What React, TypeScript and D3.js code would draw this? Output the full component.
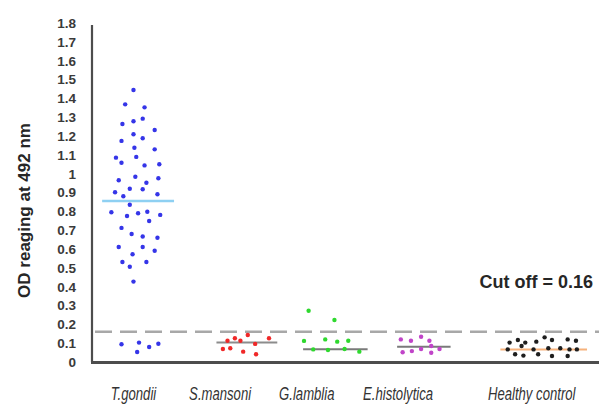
import React from 'react';
import * as d3 from 'd3';

// categories and group layout (x in category units)
const categories = ['T.gondii', 'S.mansoni', 'G.lamblia', 'E.histolytica', 'Healthy control'];
const groupCenters = [0.5, 1.68, 2.64, 3.6, 4.9];
const labelCenters = [0.45, 1.39, 2.33, 3.32, 4.77];
const meanValues = [0.855, 0.104, 0.068, 0.081, 0.067];
const meanHalfWidths = [0.39, 0.33, 0.35, 0.29, 0.47];
const cutOff = 0.16;
const yTickValues = [0, 0.1, 0.2, 0.3, 0.4, 0.5, 0.6, 0.7, 0.8, 0.9, 1, 1.1, 1.2, 1.3, 1.4, 1.5, 1.6, 1.7, 1.8];

// [jitter offset, OD value]
const tGondii = [
  [-0.05, 1.444], [-0.14, 1.368], [0.07, 1.352], [-0.17, 1.264], [-0.05, 1.278], [0.05, 1.292],
  [0.18, 1.232], [-0.05, 1.209], [0.05, 1.188], [-0.18, 1.174], [-0.04, 1.138], [0.18, 1.129],
  [-0.24, 1.085], [-0.18, 1.058], [-0.02, 1.089], [0.07, 1.044], [0.23, 1.05], [-0.21, 0.965],
  [-0.03, 0.984], [0.09, 0.952], [0.22, 0.976], [-0.25, 0.901], [-0.16, 0.88], [-0.09, 0.92],
  [0.05, 0.917], [0.21, 0.891], [-0.09, 0.835], [-0.29, 0.795], [-0.12, 0.775], [0.0, 0.79],
  [0.1, 0.798], [0.24, 0.781], [0.12, 0.749], [-0.18, 0.712], [-0.07, 0.68], [0.05, 0.666],
  [0.21, 0.66], [-0.21, 0.611], [0.05, 0.611], [0.18, 0.591], [-0.06, 0.572], [-0.17, 0.531],
  [0.09, 0.531], [-0.09, 0.506], [-0.05, 0.427],
  [-0.18, 0.094], [0.01, 0.103], [0.12, 0.08], [0.22, 0.097], [-0.01, 0.053],
];
const sMansoni = [
  [-0.21, 0.113], [-0.13, 0.126], [-0.07, 0.113], [0.01, 0.143], [0.24, 0.126],
  [0.09, 0.096], [-0.26, 0.069], [-0.18, 0.073], [-0.04, 0.055], [0.1, 0.041],
];
const gLamblia = [
  [-0.29, 0.272], [-0.01, 0.223], [-0.34, 0.112], [-0.11, 0.12], [0.02, 0.108],
  [0.14, 0.113], [-0.24, 0.067], [-0.08, 0.064], [0.1, 0.069], [0.26, 0.055],
];
const eHistolytica = [
  [-0.25, 0.12], [-0.14, 0.113], [-0.03, 0.134], [0.06, 0.113], [0.08, 0.085],
  [0.17, 0.069], [-0.23, 0.052], [-0.13, 0.058], [-0.03, 0.069], [0.08, 0.049],
];
const healthyControl = [
  [-0.37, 0.103], [-0.28, 0.117], [-0.2, 0.103], [-0.24, 0.085], [-0.08, 0.108], [0.01, 0.131],
  [0.09, 0.117], [0.26, 0.12], [0.35, 0.113], [-0.39, 0.067], [-0.11, 0.067], [0.05, 0.073],
  [0.18, 0.073], [0.28, 0.067], [0.36, 0.067], [-0.31, 0.041], [-0.22, 0.034], [-0.06, 0.041],
  [0.09, 0.032], [0.26, 0.032],
];
const groups = [tGondii, sMansoni, gLamblia, eHistolytica, healthyControl];

const dotColors = ['#3535e8', '#f02828', '#2fd82f', '#c044c8', '#1e1e1e'];
const meanColors = ['#8ed0f2', '#8c8c8c', '#7a7a7a', '#7a7a7a', '#f6b27c'];

const W = 599;
const H = 413;

export default function App() {
  const x = d3.scaleLinear().domain([0, 5.5]).range([92, 599]);
  const y = d3.scaleLinear().domain([0, 1.8]).range([362, 23]);

  return (
    <svg width={W} height={H} style={{ position: 'absolute', left: 0, top: 0, background: '#fff' }}>
      {/* y axis label */}
      <text
        transform={`translate(30,${(y(0) + y(1.8)) / 2 + 18}) rotate(-90)`}
        textAnchor="middle"
        fontFamily="'Liberation Sans', Arial, sans-serif"
        fontWeight="bold"
        fontSize={17}
        fill="#262626"
      >
        OD reaging at 492 nm
      </text>

      {/* tick labels */}
      {yTickValues.map(v => (
        <text
          key={v}
          x={76}
          y={y(v)}
          dy="0.36em"
          textAnchor="end"
          fontFamily="'Liberation Sans', Arial, sans-serif"
          fontWeight="bold"
          fontSize={13.5}
          fill="#3a3a3a"
        >
          {String(v)}
        </text>
      ))}

      {/* cut off dashed line */}
      <line x1={95} x2={599} y1={y(cutOff)} y2={y(cutOff)} stroke="#a8a8a8" strokeWidth={2.5} strokeDasharray="17 8" />
      <text
        x={593}
        y={288}
        textAnchor="end"
        fontFamily="'Liberation Sans', Arial, sans-serif"
        fontWeight="bold"
        fontSize={18}
        fill="#262626"
      >
        Cut off = 0.16
      </text>

      {/* mean lines */}
      {meanValues.map((m, i) => (
        <line
          key={i}
          x1={x(groupCenters[i] - meanHalfWidths[i])}
          x2={x(groupCenters[i] + meanHalfWidths[i])}
          y1={y(m)}
          y2={y(m)}
          stroke={meanColors[i]}
          strokeWidth={i === 0 ? 2.5 : 2}
        />
      ))}

      {/* dots */}
      {groups.map((g, i) =>
        g.map((d, j) => (
          <circle key={`${i}-${j}`} cx={x(groupCenters[i] + d[0])} cy={y(d[1])} r={2.2} fill={dotColors[i]} />
        ))
      )}

      {/* axes */}
      <line x1={92} x2={92} y1={25} y2={y(0)} stroke="#4d4d4d" strokeWidth={2.2} />
      <line x1={91} x2={599} y1={y(0) + 0.5} y2={y(0) + 0.5} stroke="#4d4d4d" strokeWidth={3} />

      {/* category labels (condensed italic) */}
      {categories.map((c, i) => (
        <text
          key={c}
          transform={`translate(${x(labelCenters[i])},400) scale(0.71,1)`}
          textAnchor="middle"
          fontFamily="'Liberation Sans', Arial, sans-serif"
          fontStyle="italic"
          fontSize={18.5}
          fill="#333"
        >
          {c}
        </text>
      ))}
    </svg>
  );
}
